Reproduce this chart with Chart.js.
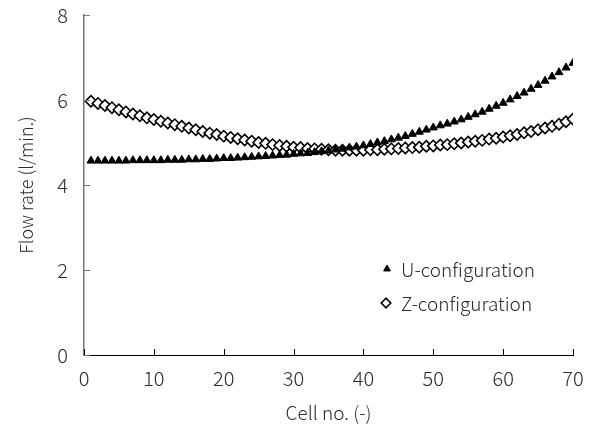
<!DOCTYPE html>
<html>
<head>
<meta charset="utf-8">
<script src="https://cdn.jsdelivr.net/npm/chart.js@4/dist/chart.umd.min.js"></script>
<style>
  html, body { margin: 0; padding: 0; background: #fff; }
  #wrap { width: 602px; height: 428px; }
</style>
</head>
<body>
<div id="wrap"><canvas id="grafico"></canvas></div>
<script>
//numero de celda
const celdas = [];
for (let i = 1; i <= 70; i++) celdas.push(i);
//caudal - configuracion U
const caudalU = [
  4.57, 4.57, 4.57, 4.57, 4.57, 4.57, 4.58, 4.58, 4.58, 4.58,
  4.58, 4.59, 4.59, 4.59, 4.60, 4.60, 4.61, 4.61, 4.62, 4.63,
  4.63, 4.64, 4.65, 4.66, 4.67, 4.68, 4.69, 4.70, 4.71, 4.73,
  4.74, 4.75, 4.77, 4.79, 4.81, 4.83, 4.85, 4.88, 4.90, 4.93,
  4.96, 5.00, 5.03, 5.07, 5.11, 5.15, 5.20, 5.25, 5.30, 5.35,
  5.40, 5.44, 5.49, 5.54, 5.60, 5.66, 5.72, 5.79, 5.86, 5.93,
  6.01, 6.09, 6.17, 6.26, 6.35, 6.45, 6.55, 6.65, 6.76, 6.87
];
//caudal - configuracion Z
const caudalZ = [
  5.97, 5.92, 5.87, 5.82, 5.77, 5.72, 5.67, 5.63, 5.58, 5.54,
  5.50, 5.46, 5.42, 5.38, 5.34, 5.30, 5.26, 5.22, 5.19, 5.15,
  5.12, 5.09, 5.06, 5.03, 5.00, 4.98, 4.95, 4.93, 4.91, 4.89,
  4.88, 4.86, 4.85, 4.84, 4.83, 4.82, 4.82, 4.82, 4.82, 4.82,
  4.83, 4.83, 4.84, 4.85, 4.86, 4.87, 4.88, 4.89, 4.91, 4.92,
  4.94, 4.95, 4.97, 4.99, 5.01, 5.03, 5.05, 5.08, 5.10, 5.13,
  5.16, 5.19, 5.23, 5.26, 5.30, 5.34, 5.38, 5.43, 5.49, 5.55
];
const series = ['U-configuration', 'Z-configuration'];
const fuente = '"Noto Sans CJK JP", "Noto Sans", sans-serif';
const colorTexto = '#2a2a2a';

//marcas de escala hacia adentro y leyenda dentro del grafico
const extras = {
  id: 'extras',
  afterDraw(chart) {
    const ctx = chart.ctx;
    const x = chart.scales.x, y = chart.scales.y;
    ctx.save();
    ctx.lineWidth = 1;
    ctx.strokeStyle = '#000';
    x.ticks.forEach((t, i) => {
      const px = Math.round(x.getPixelForTick(i)) + 0.5;
      ctx.beginPath();
      ctx.moveTo(px, y.bottom);
      ctx.lineTo(px, y.bottom - 6);
      ctx.stroke();
    });
    ctx.strokeStyle = '#777';
    y.ticks.forEach((t, i) => {
      const py = Math.round(y.getPixelForTick(i)) + 0.5;
      ctx.beginPath();
      ctx.moveTo(x.left, py);
      ctx.lineTo(x.left + 6, py);
      ctx.stroke();
    });
    //leyenda
    const filas = [
      { mx: 387, tx: 401, ty: 269 },
      { mx: 386, tx: 401, ty: 303 }
    ];
    ctx.font = '300 19px ' + fuente;
    ctx.textBaseline = 'middle';
    chart.data.datasets.forEach((ds, i) => {
      const f = filas[i];
      ctx.fillStyle = ds.backgroundColor;
      ctx.strokeStyle = ds.borderColor;
      ctx.lineWidth = ds.borderWidth;
      Chart.helpers.drawPoint(ctx, { pointStyle: ds.pointStyle, radius: ds.pointRadius * 0.85, borderWidth: ds.borderWidth }, f.mx, f.ty);
      ctx.fillStyle = colorTexto;
      ctx.fillText(ds.label, f.tx, f.ty + 1);
    });
    ctx.restore();
  }
};

new Chart(document.getElementById('grafico'), {
  type: 'line',
  data: {
    labels: celdas,
    datasets: [{
      label: series[0],
      data: caudalU,
      showLine: false,
      pointStyle: 'triangle',
      pointRadius: 4.6,
      backgroundColor: '#000',
      borderColor: '#000',
      borderWidth: 1
    }, {
      label: series[1],
      data: caudalZ,
      showLine: false,
      pointStyle: 'rectRot',
      pointRadius: 5.6,
      backgroundColor: '#fff',
      borderColor: '#000',
      borderWidth: 1.6
    }]
  },
  options: {
    responsive: true,
    maintainAspectRatio: false,
    animation: false,
    layout: { padding: { top: 15, right: 29, left: 0, bottom: 0 } },
    plugins: {
      legend: { display: false },
      tooltip: { enabled: false }
    },
    scales: {
      x: {
        type: 'linear',
        min: 0,
        max: 70,
        ticks: { stepSize: 10, color: colorTexto, font: { family: fuente, size: 20, weight: '300' }, padding: 11, maxRotation: 0 },
        grid: { display: false, drawTicks: false },
        border: { display: true, color: '#000', width: 1 },
        title: { display: true, text: 'Cell no. (-)', color: colorTexto, font: { family: fuente, size: 19, weight: '300' }, padding: { top: 4 } },
        afterFit(s) { s.height = 73; s.paddingLeft = 0; s.paddingRight = 0; }
      },
      y: {
        min: 0,
        max: 8,
        ticks: { stepSize: 2, color: colorTexto, font: { family: fuente, size: 20, weight: '300' }, padding: 16 },
        grid: { display: false, drawTicks: false },
        border: { display: true, color: '#777', width: 1.5 },
        title: { display: true, text: 'Flow rate (l/min.)', color: colorTexto, font: { family: fuente, size: 18, weight: '300' }, padding: { top: 15, bottom: 0 } },
        afterFit(s) { s.width = 84; s.paddingTop = 0; s.paddingBottom = 0; }
      }
    }
  },
  plugins: [extras]
});
</script>
</body>
</html>
